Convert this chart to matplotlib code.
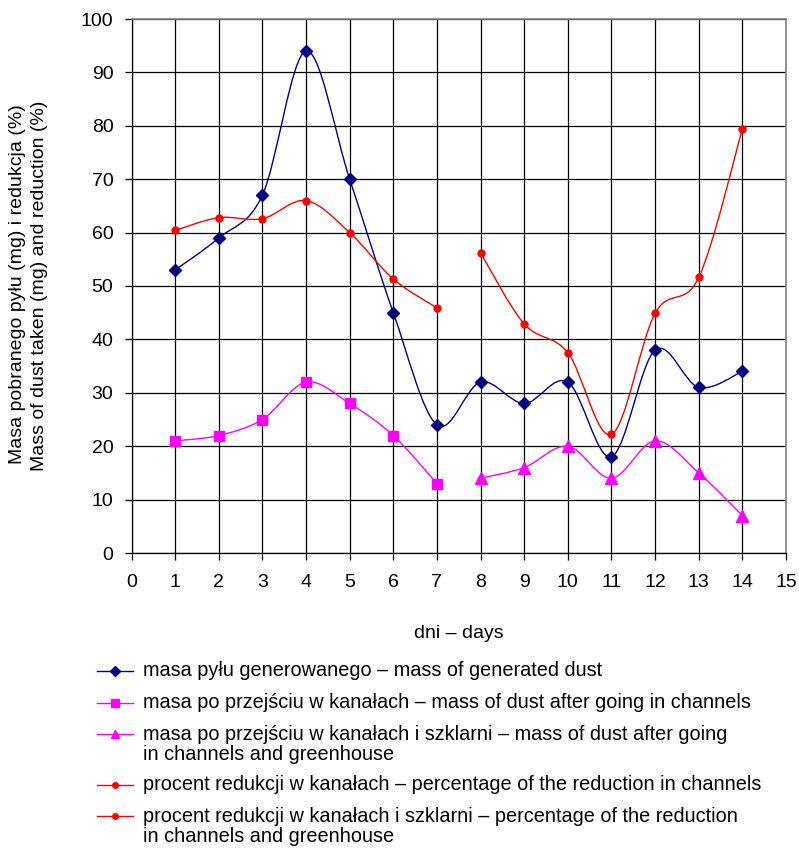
import numpy as np
import matplotlib
matplotlib.use("Agg")
import matplotlib.pyplot as plt
from matplotlib.path import Path
from matplotlib.patches import PathPatch
from matplotlib.lines import Line2D

plt.rcParams['font.family'] = ['Liberation Sans', 'DejaVu Sans']
plt.rcParams['font.size'] = 14

# data
days_first = [1, 2, 3, 4, 5, 6, 7]
days_second = [8, 9, 10, 11, 12, 13, 14]
days_all = days_first + days_second
generated = [53, 59, 67, 94, 70, 45, 24, 32, 28, 32, 18, 38, 31, 34]
after_channels = [21, 22, 25, 32, 28, 22, 13]
after_greenhouse = [14, 16, 20, 14, 21, 15, 7]
reduction_channels = [60.4, 62.8, 62.6, 66.0, 60.0, 51.3, 45.9]
reduction_greenhouse = [56.2, 42.9, 37.5, 22.2, 44.9, 51.6, 79.4]

labels = [
    ["masa pyłu generowanego – mass of generated dust"],
    ["masa po przejściu w kanałach – mass of dust after going in channels"],
    ["masa po przejściu w kanałach i szklarni – mass of dust after going",
     "in channels and greenhouse"],
    ["procent redukcji w kanałach – percentage of the reduction in channels"],
    ["procent redukcji w kanałach i szklarni – percentage of the reduction",
     "in channels and greenhouse"],
]


def smooth_path(x, y):
    # excel-like bezier smoothing through the points
    pts = np.column_stack([x, y]).astype(float)
    n = len(pts)
    verts = [pts[0]]
    codes = [Path.MOVETO]
    for i in range(n - 1):
        p0 = pts[max(i - 1, 0)]
        p1 = pts[i]
        p2 = pts[i + 1]
        p3 = pts[min(i + 2, n - 1)]
        verts += [p1 + (p2 - p0) / 6, p2 - (p3 - p1) / 6, p2]
        codes += [Path.CURVE4] * 3
    return Path(verts, codes)


W, H = 799, 848
fig = plt.figure(figsize=(W / 100, H / 100), dpi=100)
x0, x1, y0, y1 = 131.5, 786, 19, 553
ax = fig.add_axes([x0 / W, 1 - y1 / H, (x1 - x0) / W, (y1 - y0) / H])

series = [
    (days_all, generated, '#000080', 'D', 6),
    (days_first, after_channels, '#FF00FF', 's', 7),
    (days_second, after_greenhouse, '#FF00FF', '^', 8),
    (days_first, reduction_channels, '#FF0000', 'o', 5),
    (days_second, reduction_greenhouse, '#FF0000', 'o', 5),
]

for x, y, c, m, ms in series:
    ax.add_patch(PathPatch(smooth_path(x, y), fill=False, edgecolor=c, lw=1.0, zorder=3))
    ax.plot(x, y, linestyle='none', marker=m, markersize=ms, color=c, zorder=4)

ax.set_xlim(0, 15)
ax.set_ylim(0, 100)
ax.set_xticks(range(0, 16))
ax.set_yticks(range(0, 101, 10))
ax.grid(True, color='black', lw=0.9)
ax.set_axisbelow(True)
ax.tick_params(axis='x', direction='out', length=5, width=0.9, pad=10, labelsize=14)
ax.tick_params(axis='y', direction='out', length=5, width=0.9, pad=8, labelsize=14)
for s in ['top', 'right']:
    ax.spines[s].set_color('#808080')
    ax.spines[s].set_linewidth(1.2)
for s in ['left', 'bottom']:
    ax.spines[s].set_color('black')
    ax.spines[s].set_linewidth(0.9)

fig.text(459 / W, 1 - 634 / H, "dni – days", ha='center', va='center', fontsize=14)
fig.text(18 / W, 1 - 284 / H, "Masa pobranego pyłu (mg) i redukcja (%)",
         rotation=90, ha='center', va='center', fontsize=14)
fig.text(40 / W, 1 - 286 / H, "Mass of dust taken (mg) and reduction (%)",
         rotation=90, ha='center', va='center', fontsize=14)

# legend drawn by hand to keep the marker on the first text line
ypos = 671
for (x, y, c, m, ms), lines in zip(series, labels):
    yf = 1 - ypos / H
    fig.add_artist(Line2D([97 / W, 133 / W], [yf, yf], transform=fig.transFigure,
                          color=c, lw=1.0))
    fig.add_artist(Line2D([115 / W], [yf], transform=fig.transFigure,
                          color=c, marker=m, markersize=ms * 0.8, linestyle='none'))
    for k, line in enumerate(lines):
        fig.text(143 / W, 1 - (ypos + 21 * k) / H, line, ha='left', va='center', fontsize=14.3)
    ypos += 31.5 + 19 * (len(lines) - 1)

fig.savefig("out.png", dpi=100)
